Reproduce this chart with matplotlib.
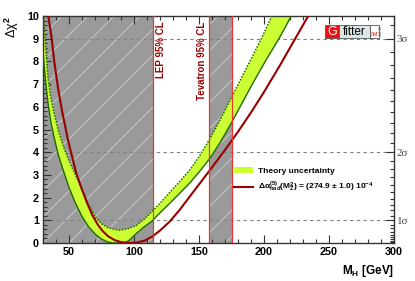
import numpy as np
import matplotlib
matplotlib.use('Agg')
import matplotlib.pyplot as plt
from matplotlib.patches import Rectangle, Patch
from matplotlib.lines import Line2D

# render at a lower dpi so the '/' hatch spacing matches the original (~13 px);
# every size in points is scaled by S to keep the pixel sizes
DPI = 78
S = 100 / DPI

plt.rcParams['font.family'] = ['Liberation Sans', 'DejaVu Sans']
plt.rcParams['font.weight'] = 'bold'
plt.rcParams['mathtext.fontset'] = 'custom'
plt.rcParams['mathtext.rm'] = 'Liberation Sans:bold'
plt.rcParams['mathtext.it'] = 'Liberation Sans:bold'
plt.rcParams['mathtext.bf'] = 'Liberation Sans:bold'
plt.rcParams['hatch.linewidth'] = 0.6 * S

# data (M_H in GeV, delta chi2)
mh_lo = [30, 31, 32, 33, 34, 36, 38, 40, 42, 45, 50, 55, 60, 65, 70, 75, 80, 84, 92, 96,
         102, 108, 114, 120, 127, 135, 143, 150, 158, 166, 175, 183, 192, 202, 212, 221, 225]
chi_lo = [8.4, 7.75, 7.15, 6.6, 6.1, 5.35, 4.8, 4.3, 3.85, 3.3, 2.45, 1.75, 1.17, 0.72, 0.4, 0.17, 0.04, 0, 0, 0.1,
          0.43, 0.72, 0.97, 1.33, 1.72, 2.18, 2.65, 3.12, 3.7, 4.4, 5.3, 6.15, 7.1, 8.1, 9.05, 10.0, 10.4]

mh_hi = [30, 31.5, 33.8, 36, 38, 42, 46, 50, 55, 60, 65, 70, 75, 80, 85, 89, 95,
         102, 108, 114, 120, 127, 135, 143, 150, 158, 166, 174, 182, 190, 198, 206, 210]
chi_hi = [10.3, 9.0, 7.3, 6.4, 5.85, 4.9, 4.2, 3.62, 3.0, 2.35, 1.72, 1.15, 0.85, 0.68, 0.6, 0.57, 0.62,
          0.78, 1.05, 1.4, 1.75, 2.2, 2.7, 3.22, 3.8, 4.55, 5.4, 6.3, 7.2, 8.1, 9.0, 10.0, 10.5]

mh_red = [33, 34.1, 36.7, 38.5, 41.8, 44.5, 49.2, 51.5, 55.6, 60, 64, 68, 72, 76, 80, 85, 90,
          96, 102, 108, 114, 120, 127.4, 135, 142.8, 150, 160, 170, 180, 190, 200, 212, 224, 234, 238]
chi_red = [10.6, 10, 9, 8.06, 6.74, 5.86, 4.54, 4.0, 3.07, 2.35, 1.75, 1.22, 0.82, 0.52, 0.3, 0.13, 0.04,
           0, 0.02, 0.1, 0.28, 0.55, 0.94, 1.45, 2.04, 2.58, 3.33, 4.1, 4.9, 5.75, 6.65, 7.8, 9.0, 10.0, 10.4]

lep_limit = 114.4
tev_excl = [158, 175]
sigma_levels = [1, 2, 3]
xlim = [30, 300]
ylim = [0, 10]

W, H = 415, 281
fig = plt.figure(figsize=(W / DPI, H / DPI), dpi=DPI)
ax = fig.add_axes([43 / W, 38 / H, 351 / W, 227 / H])
ax.set_xlim(xlim)
ax.set_ylim(ylim)

grey = '#9a9a9a'
ax.axvspan(xlim[0], lep_limit, facecolor=grey, edgecolor='#cfcfcf', hatch='/', lw=0, zorder=0)
ax.axvspan(tev_excl[0], tev_excl[1], facecolor=grey, edgecolor='#cfcfcf', hatch='/', lw=0, zorder=0)

for s in sigma_levels:
    ax.axhline(s ** 2, color='#808080', lw=0.8 * S, ls=(0, (3, 3)), zorder=1)

# theory band
band_x = mh_hi + mh_lo[::-1]
band_y = chi_hi + chi_lo[::-1]
ax.fill(band_x, band_y, color='#ccff33', lw=0, zorder=2)
ax.plot(mh_lo, chi_lo, color='#1f6b00', lw=1.0 * S, zorder=3)
ax.plot(mh_hi, chi_hi, color='#1f6b00', lw=1.1 * S, ls=(0, (1, 1)), zorder=3)
ax.plot(mh_red, chi_red, color='#990000', lw=1.5 * S, zorder=4)

red = '#ee3333'
ax.axvline(lep_limit, color=red, lw=0.9 * S, zorder=5)
for x in tev_excl:
    ax.axvline(x, color=red, lw=0.9 * S, zorder=5)

ax.text(lep_limit + 2.2, 9.75, 'LEP 95% CL', rotation=90, ha='left', va='top',
        color='#990000', fontsize=7 * S, fontweight='bold', zorder=6)
ax.text(tev_excl[0] - 1.5, 9.75, 'Tevatron 95% CL', rotation=90, ha='right', va='top',
        color='#990000', fontsize=7 * S, fontweight='bold', zorder=6)

# axes styling
ax.set_xticks([50, 100, 150, 200, 250, 300])
ax.set_xticks(np.arange(30, 301, 10), minor=True)
ax.set_yticks(np.arange(0, 11, 1))
ax.set_yticks(np.arange(0, 10.01, 0.2), minor=True)
ax.tick_params(which='both', direction='in', top=True, right=False, labelsize=7.8 * S, width=0.8 * S,
               color='#333333', pad=3 * S)
ax.tick_params(which='major', length=6 * S)
ax.tick_params(which='minor', length=3 * S)
for lab in ax.get_xticklabels() + ax.get_yticklabels():
    lab.set_fontweight('bold')
for sp in ax.spines.values():
    sp.set_linewidth(1.0 * S)
    sp.set_color('#333333')

ax2 = ax.twinx()
ax2.set_ylim(ylim)
ax2.set_yticks([s ** 2 for s in sigma_levels])
ax2.set_yticklabels([f'{s}σ' for s in sigma_levels], fontweight='normal', fontsize=8 * S,
                    family=['Liberation Serif', 'DejaVu Serif'], color='#444444')
minor_sig = [s / 10 for s in range(2, 33) if s % 10 != 0]
ax2.set_yticks([s ** 2 for s in minor_sig if s ** 2 <= 10], minor=True)
ax2.tick_params(which='both', direction='in', width=0.8 * S, color='#333333', pad=2 * S)
ax2.tick_params(which='major', length=6 * S)
ax2.tick_params(which='minor', length=3 * S)
for sp in ax2.spines.values():
    sp.set_visible(False)

ax.set_xlabel('M$_{\\rm H}$ [GeV]', fontsize=8.5 * S, fontweight='bold', loc='right', labelpad=4 * S)
ax.set_ylabel('Δχ$^2$', fontsize=9 * S, loc='top', labelpad=4 * S, fontweight='normal')

handles = [Patch(facecolor='#ccff33', edgecolor='none'),
           Line2D([], [], color='#990000', lw=1.5 * S)]
labels = ['Theory uncertainty',
          'Δα$^{(5)}_{\\rm had}$(M$^2_{\\rm Z}$) = (274.9 ± 1.0) 10$^{-4}$']
leg = ax.legend(handles, labels, loc='upper left', bbox_to_anchor=(0.545, 0.335), frameon=False,
                fontsize=6 * S, handlelength=2.2, handletextpad=0.6, borderpad=0, labelspacing=0.6,
                borderaxespad=0)
for t in leg.get_texts():
    t.set_fontweight('bold')

# Gfitter logo
def box(x0, y0, w, h, fc, ec='#555555'):
    fig.patches.append(Rectangle((x0 / W, 1 - (y0 + h) / H), w / W, h / H, transform=fig.transFigure,
                                 facecolor=fc, edgecolor=ec, lw=0.6 * S, zorder=10))

box(325, 25, 14, 13, '#ee1111')
box(339, 25, 31, 13, '#dde6e6')
box(370, 25, 9, 13, 'white')
fig.text(332 / W, 1 - 31.8 / H, 'G', color='white', fontsize=9 * S, fontweight='normal', ha='center', va='center', zorder=11)
fig.text(354.5 / W, 1 - 31.8 / H, 'fitter', color='black', fontsize=8.5 * S, fontweight='normal', ha='center', va='center', zorder=11)
fig.text(374.5 / W, 1 - 34 / H, 'SM', color='#ee1111', fontsize=3.5 * S, fontweight='normal', ha='center', va='center', zorder=11)
fig.text(381 / W, 1 - 31 / H, 'Jul 10', color='#777777', fontsize=2.5 * S, rotation=90, ha='center', va='center', zorder=11)

fig.savefig('out.png', dpi=DPI)
